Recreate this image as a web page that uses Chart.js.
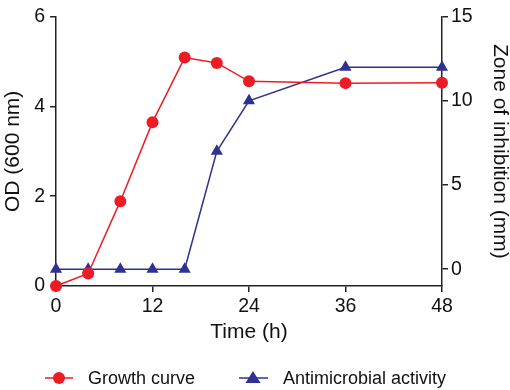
<!DOCTYPE html>
<html>
<head>
<meta charset="utf-8">
<script src="https://cdn.jsdelivr.net/npm/chart.js@4"></script>
<style>
  html, body { margin: 0; padding: 0; background: #fff; }
  #wrap { position: relative; width: 510px; height: 390px; }
  #legend { position: absolute; left: 0; top: 366px; width: 510px; height: 24px;
    font-family: "Liberation Sans", Arial, sans-serif; font-size: 18px; color: #111; }
  .item { position: absolute; top: 0; display: flex; align-items: center; height: 24px; }
</style>
</head>
<body>
<div id="wrap">
  <canvas id="chart" width="510" height="390"></canvas>
  <div id="legend">
    <div class="item" style="left:44px;">
      <svg width="34" height="24"><line x1="1" y1="12" x2="29" y2="12" stroke="#ed1c24" stroke-width="1.5"/><circle cx="15" cy="12" r="6" fill="#ed1c24"/></svg>
      <span style="margin-left:10px">Growth curve</span>
    </div>
    <div class="item" style="left:238px;">
      <svg width="36" height="24"><line x1="1" y1="12" x2="30" y2="12" stroke="#2e3191" stroke-width="1.5"/><polygon points="15,5 22.5,17 7.5,17" fill="#2e3191"/></svg>
      <span style="margin-left:9px">Antimicrobial activity</span>
    </div>
  </div>
</div>
<script>
// time points (h)
const hours = [0, 4, 8, 12, 16, 20, 24, 36, 48];
// OD 600 nm
const growth = [0, 0.28, 1.89, 3.65, 5.09, 4.97, 4.56, 4.52, 4.53];
// zone of inhibition (mm)
const inhibition = [0, 0, 0, 0, 0, 7, 10, 12, 12];

const xTicks = [0, 12, 24, 36, 48];
const odTicks = [0, 2, 4, 6];
const zoneTicks = [0, 5, 10, 15];

const RED = '#ed1c24';
const NAVY = '#2e3191';
const AXIS = '#222';
const FONT = '"Liberation Sans", Arial, sans-serif';

const toPoints = (ys) => hours.map((h, i) => ({ x: h, y: ys[i] }));
const fixTicks = (vals) => (scale) => { scale.ticks = vals.map(v => ({ value: v })); };

new Chart(document.getElementById('chart'), {
    type: 'line',
    data: {
        datasets: [
            {
                label: 'Growth curve',
                data: toPoints(growth),
                yAxisID: 'y',
                borderColor: RED,
                backgroundColor: RED,
                borderWidth: 1.5,
                pointStyle: 'circle',
                pointRadius: 6,
                pointHoverRadius: 6,
                pointBorderWidth: 0,
                clip: false,
                order: 1
            },
            {
                label: 'Antimicrobial activity',
                data: toPoints(inhibition),
                yAxisID: 'y2',
                borderColor: NAVY,
                backgroundColor: NAVY,
                borderWidth: 1.5,
                pointStyle: 'triangle',
                pointRadius: 7,
                pointHoverRadius: 7,
                pointBorderWidth: 0,
                clip: false,
                order: 2
            }
        ]
    },
    options: {
        responsive: false,
        animation: false,
        layout: { padding: { left: 0, right: 0, top: 10, bottom: 40 } },
        plugins: { legend: { display: false }, tooltip: { enabled: false } },
        scales: {
            x: {
                type: 'linear',
                min: 0,
                max: 48,
                afterBuildTicks: fixTicks(xTicks),
                afterFit: (s) => { s.height = 64; },
                grid: { display: true, drawOnChartArea: false, drawTicks: true, tickLength: 6, color: AXIS, lineWidth: 1.5 },
                border: { display: true, color: AXIS, width: 1.5 },
                ticks: { color: '#111', padding: 3, font: { family: FONT, size: 19.5 } },
                title: { display: true, text: 'Time (h)', color: '#111', padding: { top: 0, bottom: 6 },
                    font: { family: FONT, size: 21, lineHeight: 1.15 } }
            },
            y: {
                type: 'linear',
                position: 'left',
                min: 0,
                max: 6,
                afterBuildTicks: fixTicks(odTicks),
                afterFit: (s) => { s.width = 56; },
                grid: { display: true, drawOnChartArea: false, drawTicks: true, tickLength: 6, color: AXIS, lineWidth: 1.5 },
                border: { display: true, color: AXIS, width: 1.5 },
                ticks: { color: '#111', padding: 5, font: { family: FONT, size: 19.5 } },
                title: { display: true, text: 'OD (600 nm)', color: '#111', padding: { top: 3, bottom: 0 },
                    font: { family: FONT, size: 21, lineHeight: 1 } }
            },
            y2: {
                type: 'linear',
                position: 'right',
                min: -1,
                max: 15,
                afterBuildTicks: fixTicks(zoneTicks),
                afterFit: (s) => { s.width = 68; },
                grid: { display: true, drawOnChartArea: false, drawTicks: true, tickLength: 6, color: AXIS, lineWidth: 1.5 },
                border: { display: true, color: AXIS, width: 1.5 },
                ticks: { color: '#111', padding: 3, font: { family: FONT, size: 19.5 } },
                title: { display: true, text: 'Zone of inhibition (mm)', color: '#111', padding: { top: 0, bottom: 0 },
                    font: { family: FONT, size: 21, lineHeight: 1 } }
            }
        }
    }
});
</script>
</body>
</html>
